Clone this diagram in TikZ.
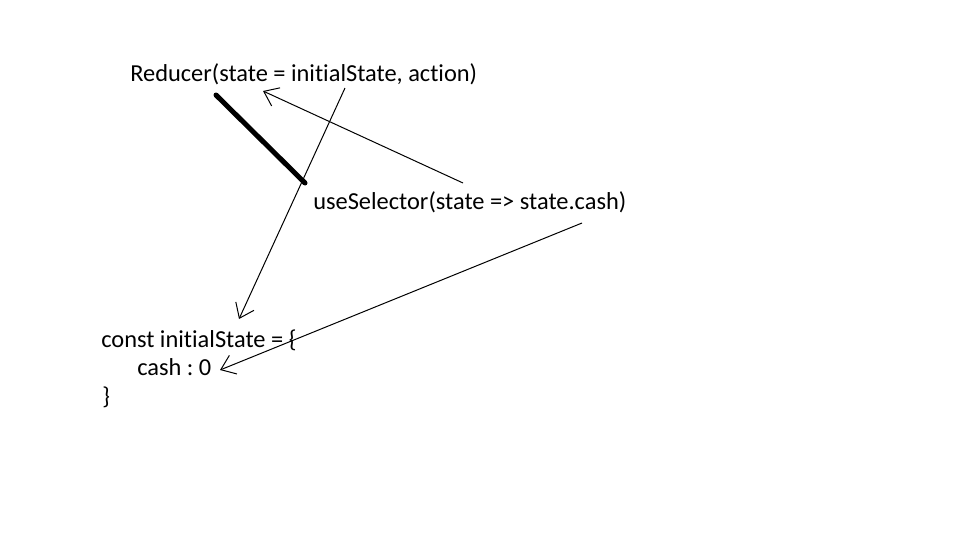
\documentclass[tikz,border=0pt]{standalone}
\usepackage{fontspec}
\setmainfont{Carlito}[Ligatures=NoCommon]
\frenchspacing
\usepackage{tikz}
\usetikzlibrary{arrows.meta}

\begin{document}
\begin{tikzpicture}[
        x=0.75pt, y=-0.75pt,
        code/.style={anchor=base west, inner sep=0pt, font=\fontsize{18.3}{22}\selectfont},
        pointer/.style={line width=0.75pt, -{Straight Barb[length=10pt, width=15pt]}},
        bar/.style={line width=3.75pt, line cap=round}
        ]
        \useasboundingbox (0,0) rectangle (960,540);

        % Code lines
        \node[code] (reducer) at (130,81) {Reducer(state = initialState, action)};
        \node[code] (selector) at (313,209) {useSelector(state => state.cash)};
        \node[code] (init) at (101,347) {const initialState = \{};
        \node[code] (cash) at (137,375) {cash : 0};
        \node[code] (close) at (102,404) {\}};

        % Connector ends
        \coordinate (barTop) at (216,95);
        \coordinate (barEnd) at (305,183);
        \coordinate (actionEnd) at (345,88);
        \coordinate (initTip) at (239,319);
        \coordinate (selectStart) at (463,183);
        \coordinate (stateTip) at (263,91);
        \coordinate (cashStart) at (582,223);
        \coordinate (cashTip) at (220,370);

        % Connectors
        \draw[bar] (barTop) -- (barEnd);
        \draw[pointer] (actionEnd) -- (initTip);
        \draw[pointer] (selectStart) -- (stateTip);
        \draw[pointer] (cashStart) -- (cashTip);

    \end{tikzpicture}
\end{document}
